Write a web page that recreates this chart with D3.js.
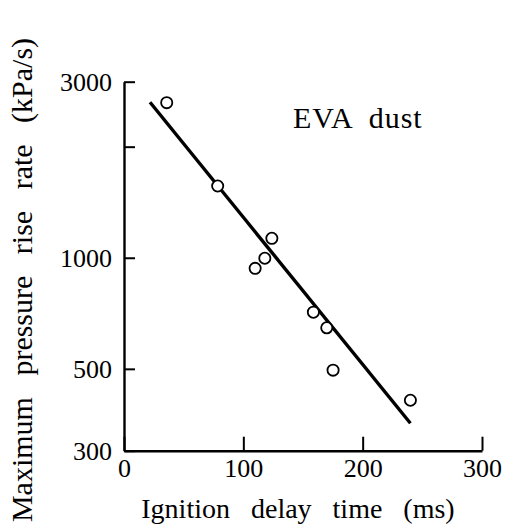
<!DOCTYPE html>
<html><head><meta charset="utf-8">
<script src="https://cdn.jsdelivr.net/npm/d3@7"></script>
<style>body{margin:0;background:#fff}</style>
</head><body>
<script>
const delayTime = [35.8, 78.5, 123.9, 118.0, 109.9, 158.7, 169.9, 175.2, 240];
const riseRate = [2632, 1565, 1129, 997, 936, 712, 646, 496, 411];
const fitX = [21.8, 240];
const fitY = [2639, 356];
const xTicks = [0, 100, 200, 300];
const yTicks = [300, 500, 1000, 2000, 3000];
const yTickLabels = ["300", "500", "1000", "", "3000"];

const W = 507, H = 527;
const svg = d3.select("body").append("svg").attr("width", W).attr("height", H);
const x = d3.scaleLinear().domain([0, 300]).range([124, 482]);
const y = d3.scaleLog().domain([300, 3000]).range([450.7, 81.7]);
const font = "'Liberation Serif', 'DejaVu Serif', serif";

// axes lines
const gx = svg.append("g").attr("transform", "translate(0,450.7)")
  .call(d3.axisBottom(x).tickValues(xTicks).tickSizeInner(-14).tickSizeOuter(0).tickPadding(18));
const gy = svg.append("g").attr("transform", "translate(124,0)")
  .call(d3.axisLeft(y).tickValues(yTicks).tickSizeInner(-11).tickSizeOuter(0).tickPadding(14)
    .tickFormat((d, i) => yTickLabels[i]));
[gx, gy].forEach(g => {
  g.attr("font-size", null).attr("font-family", null);
  g.select(".domain").attr("stroke", "#000").attr("stroke-width", 2.4);
  g.selectAll(".tick line").attr("stroke", "#000").attr("stroke-width", 2);
  g.selectAll(".tick text").attr("fill", "#000").style("font-family", font).style("font-size", "26px");
});
gx.selectAll(".tick text").attr("dy", "0.71em").attr("y", 8);
gy.selectAll(".tick text").attr("x", -12);

// fit line
svg.append("line")
  .attr("x1", x(fitX[0])).attr("y1", y(fitY[0]))
  .attr("x2", x(fitX[1])).attr("y2", y(fitY[1]))
  .attr("stroke", "#000").attr("stroke-width", 3.4);

// points
svg.append("g").selectAll("circle").data(delayTime).join("circle")
  .attr("cx", d => x(d)).attr("cy", (d, i) => y(riseRate[i]))
  .attr("r", 5.6).attr("fill", "#fff").attr("stroke", "#000").attr("stroke-width", 1.8);

// labels
svg.append("text").attr("x", 293).attr("y", 128)
  .style("font-family", font).style("font-size", "30px").style("letter-spacing", "1px")
  .style("word-spacing", "8px").text("EVA dust");

svg.append("text").attr("x", 298).attr("y", 518).attr("text-anchor", "middle")
  .style("font-family", font).style("font-size", "28px").style("word-spacing", "14px")
  .text("Ignition delay time (ms)");

svg.append("text").attr("transform", "translate(32,280) rotate(-90)").attr("text-anchor", "middle")
  .style("font-family", font).style("font-size", "30px").style("word-spacing", "14px")
  .text("Maximum pressure rise rate (kPa/s)");
</script>
</body></html>
